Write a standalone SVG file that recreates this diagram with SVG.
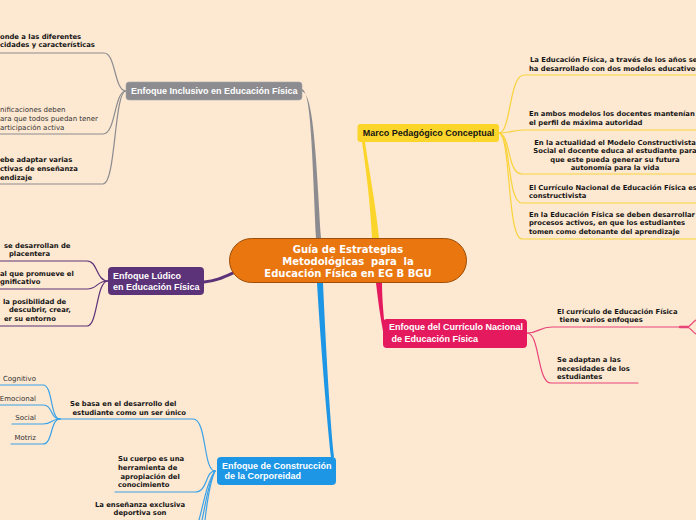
<svg xmlns="http://www.w3.org/2000/svg" width="696" height="520" viewBox="0 0 696 520">
<style>
.lf{font-family:"DejaVu Sans",Verdana,sans-serif;font-size:6.8px;font-weight:bold;fill:#151515}
.lr{font-family:"DejaVu Sans",Verdana,sans-serif;font-size:7px;fill:#333}
.nd{font-family:"Liberation Sans",Arial,sans-serif;font-size:9px;font-weight:bold;fill:#fff}
.ct{font-family:"DejaVu Sans",Verdana,sans-serif;font-size:10px;font-weight:bold;fill:#fff;text-anchor:middle}
.c{fill:none;stroke-width:1.2;stroke-linecap:round}
.g{stroke:#8c8c90}.y{stroke:#f9d33a}.p{stroke:#5c3278}.k{stroke:#e8457a}.b{stroke:#3aa2e8}
</style>
<rect width="696" height="520" fill="#fde8d1"/>
<g id="connectors">
<path d="M302,89 C311,92 312,150 316,238 L321,238 C316,150 313,93 302,91.5 Z" fill="#8c8c90"/>
<path d="M362,142 C366,170 370,200 372,238 L379,238 C375,200 369,170 365,142 Z" fill="#fcd52a"/>
<path d="M376,283 L382,283 C382,300 384,318 385,330 L383,331 C380,316 378,300 376,283 Z" fill="#e5195e"/>
<path d="M317,283 L323,283 C326,350 330,420 334,457 L331,458 C327,420 321,350 317,283 Z" fill="#1c96e5"/>
<path class="c p" d="M204,282 C216,281 224,277 235,272" style="stroke-width:3"/>
<path class="c g" d="M126,91 C114,91 116,53 104,53 H0"/>
<path class="c g" d="M126,91 C114,91 116,134 103,134 H0"/>
<path class="c g" d="M126,91 C114,91 116,184 103,184 H0"/>
<path class="c y" d="M499,133 C511,133 509,75 524,75 H696"/>
<path class="c y" d="M499,133 C510,133 512,130 524,130 H696"/>
<path class="c y" d="M499,133 C511,135 507,174 522,174 H696"/>
<path class="c y" d="M499,133 C511,135 507,203 522,203 H696"/>
<path class="c y" d="M499,133 C511,135 507,239 522,239 H696"/>
<path class="c p" d="M108,281 C96,281 98,261 87,261 H0"/>
<path class="c p" d="M108,281 C96,281 98,289 87,289 H0"/>
<path class="c p" d="M108,281 C96,281 98,326 87,326 H0"/>
<path class="c k" d="M527,333 C539,333 539,327 552,327 H688"/>
<path class="c k" d="M680,327 H688" style="stroke-width:2.5"/>
<path class="c k" d="M686,327 C691,327 692,322 696,320"/>
<path class="c k" d="M686,327 C691,327 692,332 696,334"/>
<path class="c k" d="M527,333 C540,333 537,383 551,383 H638"/>
<path class="c b" d="M215,471 C203,471 207,419 193,419 H60"/>
<path class="c b" d="M60,419 C50,419 53,385 43,385 H0"/>
<path class="c b" d="M60,419 C50,419 53,405 43,405 H0"/>
<path class="c b" d="M60,419 C50,419 53,424 43,424 H12"/>
<path class="c b" d="M60,419 C50,419 53,444 43,444 H11"/>
<path class="c b" d="M215,471 C205,471 208,492 195,492 H115"/>
<path class="c b" d="M215,471 C207,482 204,502 199,520"/>
<path class="c b" d="M215,471 C208,483 206,503 202,520"/>
<path class="c b" d="M215,471 C209,484 207,504 205,520"/>
</g>
<g id="central">
<rect x="229.5" y="238.5" width="237" height="44" rx="22" fill="#e9760f" stroke="#9e4e08"/>
<text class="ct" x="348" y="252.7">Guía de Estrategias</text>
<text class="ct" x="348" y="265" xml:space="preserve">Metodológicas  para  la</text>
<text class="ct" x="348" y="277">Educación Física en EG B BGU</text>
</g>
<g id="inclusivo">
<rect x="126" y="82" width="176" height="18" rx="3" fill="#8c8c90" stroke="#a5a5a8" stroke-width="0.6"/>
<text class="nd" x="131" y="94.3">Enfoque Inclusivo en Educación Física</text>
</g>
<g id="inclusivo-1">
<text class="lf" x="0" y="38.5">onde a las diferentes</text>
<text class="lf" x="0" y="46.8">cidades y características</text>
</g>
<g id="inclusivo-2">
<text class="lr" x="0" y="112">nificaciones deben</text>
<text class="lr" x="0" y="121">ara que todos puedan tener</text>
<text class="lr" x="0" y="129.5">articipación activa</text>
</g>
<g id="inclusivo-3">
<text class="lf" x="0" y="162.3">ebe adaptar varias</text>
<text class="lf" x="0" y="171">ctivas de enseñanza</text>
<text class="lf" x="0" y="179.5">endizaje</text>
</g>
<g id="marco">
<rect x="357.5" y="124" width="141.5" height="18" rx="3" fill="#fcd52a"/>
<text class="nd" x="362.7" y="136.3" style="fill:#151515">Marco Pedagógico Conceptual</text>
</g>
<g id="marco-1">
<text class="lf" x="530" y="62.3">La Educación Física, a través de los años se</text>
<text class="lf" x="529" y="70.7">ha desarrollado con dos modelos educativos</text>
</g>
<g id="marco-2">
<text class="lf" x="529" y="116.3">En ambos modelos los docentes mantenían</text>
<text class="lf" x="529" y="124.5">el perfil de máxima autoridad</text>
</g>
<g id="marco-3" style="text-anchor:middle">
<text class="lf" x="615" y="144.5">En la actualidad el Modelo Constructivista</text>
<text class="lf" x="615" y="152.5">Social el docente educa al estudiante para</text>
<text class="lf" x="615" y="161.5">que este pueda generar su futura</text>
<text class="lf" x="615" y="169.5">autonomía para la vida</text>
</g>
<g id="marco-4">
<text class="lf" x="529" y="189.5">El Currículo Nacional de Educación Física es</text>
<text class="lf" x="529" y="197.8">constructivista</text>
</g>
<g id="marco-5">
<text class="lf" x="529" y="217">En la Educación Física se deben desarrollar</text>
<text class="lf" x="529" y="225.4">procesos activos, en que los estudiantes</text>
<text class="lf" x="529" y="234">tomen como detonante del aprendizaje</text>
</g>
<g id="ludico">
<rect x="108" y="267" width="96" height="28" rx="4" fill="#5c3278"/>
<text class="nd" x="113" y="279">Enfoque Lúdico</text>
<text class="nd" x="113" y="290.2">en Educación Física</text>
</g>
<g id="ludico-1">
<text class="lf" x="4" y="247.5">se desarrollan de</text>
<text class="lf" x="9" y="256">placentera</text>
</g>
<g id="ludico-2">
<text class="lf" x="0" y="275.8">al que promueve el</text>
<text class="lf" x="0" y="284.2">gnificativo</text>
</g>
<g id="ludico-3">
<text class="lf" x="3" y="303.5">la posibilidad de</text>
<text class="lf" x="9" y="312">descubrir, crear,</text>
<text class="lf" x="4" y="320.8">er su entorno</text>
</g>
<g id="curriculo">
<rect x="383" y="319" width="144" height="29" rx="4" fill="#e5195e"/>
<text class="nd" x="389" y="330.3">Enfoque del Currículo Nacional</text>
<text class="nd" x="391.5" y="342">de Educación Física</text>
</g>
<g id="curriculo-1">
<text class="lf" x="557" y="314.3">El currículo de Educación Física</text>
<text class="lf" x="559.5" y="322.3">tiene varios enfoques</text>
</g>
<g id="curriculo-2">
<text class="lf" x="557" y="362.3">Se adaptan a las</text>
<text class="lf" x="557" y="370.6">necesidades de los</text>
<text class="lf" x="557" y="379">estudiantes</text>
</g>
<g id="corporeidad">
<rect x="217" y="457" width="119" height="28" rx="4" fill="#1c96e5"/>
<text class="nd" x="222" y="468.5">Enfoque de Construcción</text>
<text class="nd" x="224.5" y="479.3">de la Corporeidad</text>
</g>
<g id="corporeidad-1">
<text class="lf" x="70" y="405.5">Se basa en el desarrollo del</text>
<text class="lf" x="72.5" y="414.5">estudiante como un ser único</text>
</g>
<g id="cognitivo"><text class="lr" x="36" y="381" text-anchor="end">Cognitivo</text></g>
<g id="emocional"><text class="lr" x="36" y="401" text-anchor="end">Emocional</text></g>
<g id="social"><text class="lr" x="36" y="419.5" text-anchor="end">Social</text></g>
<g id="motriz"><text class="lr" x="36" y="439.5" text-anchor="end">Motriz</text></g>
<g id="corporeidad-2">
<text class="lf" x="118" y="461.2">Su cuerpo es una</text>
<text class="lf" x="118" y="469.5">herramienta de</text>
<text class="lf" x="120.5" y="478.5">apropiación del</text>
<text class="lf" x="118" y="486.9">conocimiento</text>
</g>
<g id="corporeidad-3" style="text-anchor:middle">
<text class="lf" x="140" y="507">La enseñanza exclusiva</text>
<text class="lf" x="140" y="515.3">deportiva son</text>
</g>
</svg>
